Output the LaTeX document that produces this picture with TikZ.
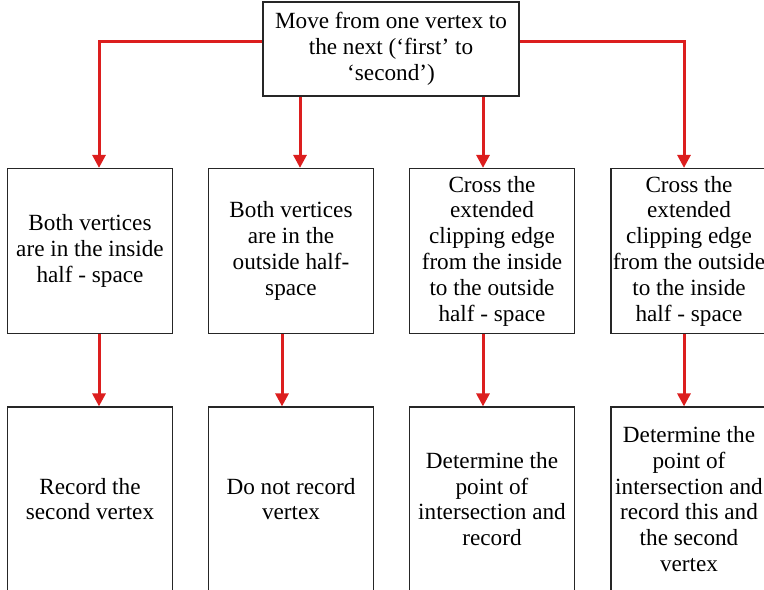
\documentclass[tikz,border=0pt]{standalone}
\usepackage{fontspec}
\setmainfont{Liberation Serif}
\usetikzlibrary{arrows.meta}
\definecolor{flowred}{RGB}{220,30,30}
\tikzstyle{stage}=[draw=black!85, line width=0.6pt, align=center, inner sep=1pt,
    font=\fontsize{11.6}{12.9}\selectfont, minimum width=82.5pt, minimum height=82.5pt]
\tikzstyle{flow}=[draw=flowred, line width=1.5pt,
    -{Triangle[width=6.5pt,length=6.5pt]}]
\newcommand{\stage}{\node[stage]}

\begin{document}
\begin{tikzpicture}[x=0.5pt, y=-0.5pt]
\useasboundingbox (0,0) rectangle (764,589);
\clip (0,0) rectangle (764,589);
\stage[minimum width=128pt, minimum height=47pt] (top) at (391,49)
    {Move from one vertex to\\the next (`first' to\\`second')};
% the four cases
\stage (b1) at (90,251) {Both vertices\\are in the inside\\half - space};
\stage (b2) at (291,251) {Both vertices\\are in the\\outside half-\\space};
\stage (b3) at (492,251) {Cross the\\extended\\clipping edge\\from the inside\\to the outside\\half - space};
\stage[minimum width=78pt] (b4) at (689,251) {Cross the\\extended\\clipping edge\\from the outside\\to the inside\\half - space};
% what gets recorded
\stage[minimum height=92pt] (c1) at (90,499) {Record the\\second vertex};
\stage[minimum height=92pt] (c2) at (291,499) {Do not record\\vertex};
\stage[minimum height=92pt] (c3) at (492,499) {Determine the\\point of\\intersection and\\record};
\stage[minimum width=78pt, minimum height=92pt] (c4) at (689,499) {Determine the\\point of\\intersection and\\record this and\\the second\\vertex};
\draw[flow] ([yshift=4pt]top.west) -| ([xshift=4.5pt]b1.north);
\draw[flow] ([xshift=-45.5pt]top.south) -- ([xshift=4.5pt]b2.north);
\draw[flow] ([xshift=46pt]top.south) -- ([xshift=-4.5pt]b3.north);
\draw[flow] ([yshift=4pt]top.east) -| ([xshift=-2.5pt]b4.north);
\draw[flow] ([xshift=4.5pt]b1.south) -- ([xshift=4.5pt]c1.north);
\draw[flow] ([xshift=-4.5pt]b2.south) -- ([xshift=-4.5pt]c2.north);
\draw[flow] ([xshift=-4.5pt]b3.south) -- ([xshift=-4.5pt]c3.north);
\draw[flow] ([xshift=-2.5pt]b4.south) -- ([xshift=-2.5pt]c4.north);
\end{tikzpicture}
\end{document}
